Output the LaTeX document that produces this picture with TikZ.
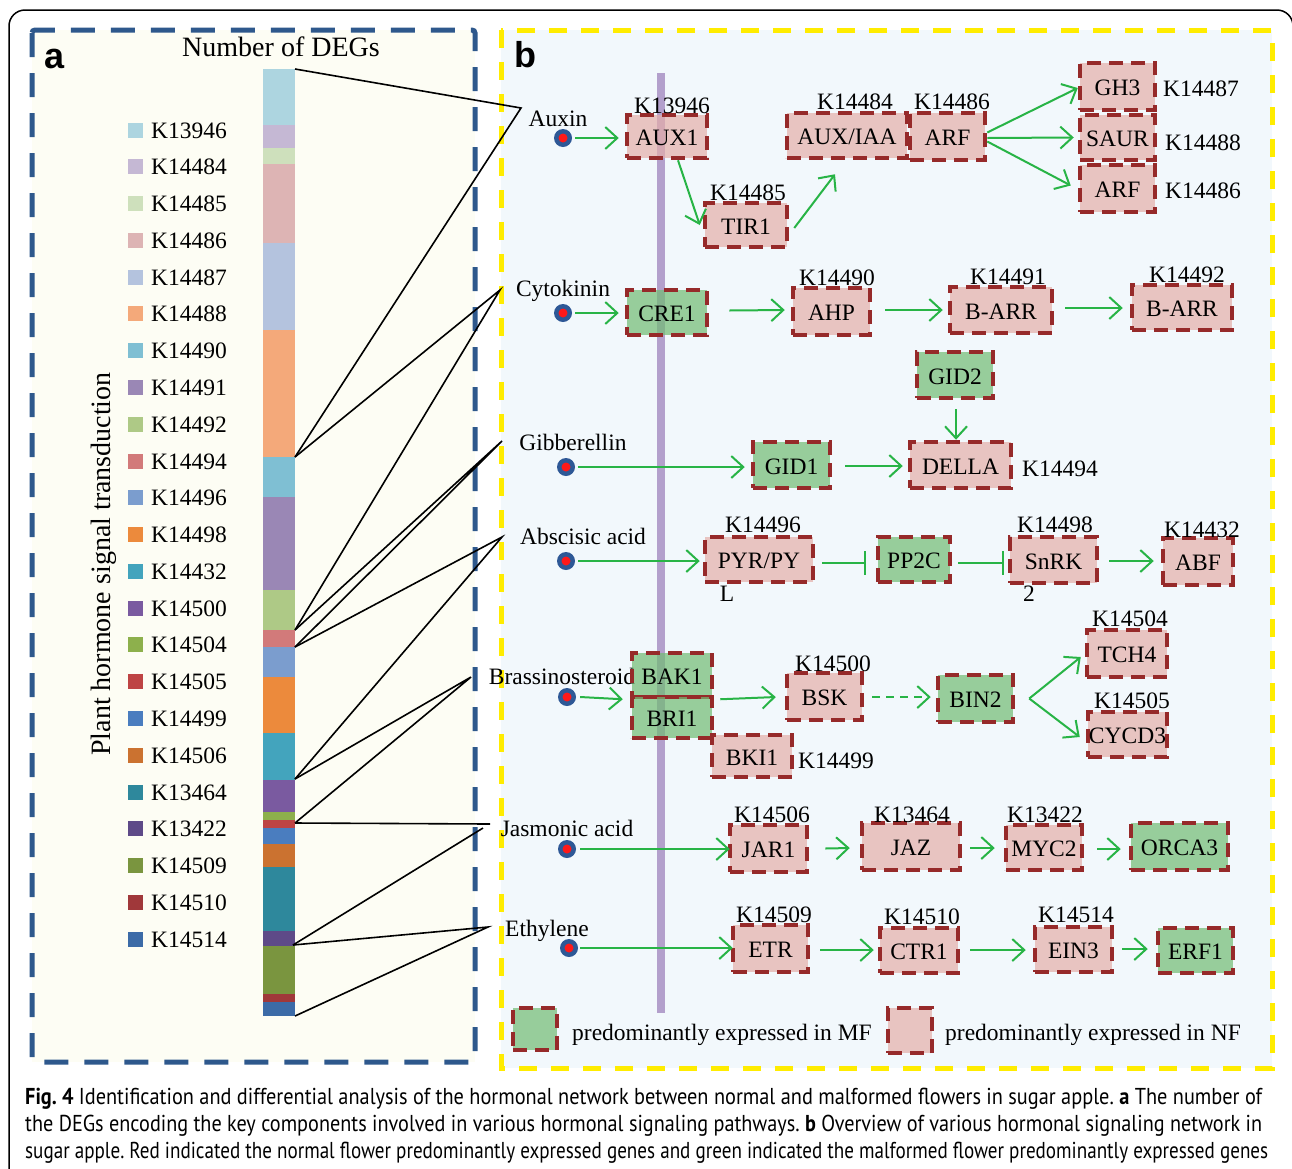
\documentclass[tikz,border=0pt]{standalone}
\usepackage{fontspec}
\usepackage{graphicx}
\setmainfont{Liberation Serif}
\newfontfamily\capfont{PT Sans}
\newfontfamily\labfont{Liberation Sans}
\usetikzlibrary{arrows.meta,calc}
\newlength\mycaplen
\newcommand\mycapline[2]{\settowidth\mycaplen{#2}\pgfmathsetmacro\mycapsc{#1/\mycaplen}\hbox{\scalebox{\mycapsc}[1]{#2}}}
\definecolor{boxred}{RGB}{150,42,42}
\definecolor{pinkfill}{RGB}{228,174,169}
\definecolor{greenfill}{RGB}{113,188,115}
\definecolor{arrgreen}{RGB}{40,180,70}
\definecolor{dotblue}{RGB}{46,88,150}
\definecolor{dotred}{RGB}{255,25,25}
\definecolor{barpurple}{RGB}{179,160,204}
\definecolor{panelA}{RGB}{253,253,244}
\definecolor{panelB}{RGB}{242,248,252}
\definecolor{blueborder}{RGB}{46,88,140}
\definecolor{yellowborder}{RGB}{255,236,0}
\definecolor{cA}{RGB}{173,213,224}
\definecolor{cB}{RGB}{197,184,212}
\definecolor{cC}{RGB}{206,224,188}
\definecolor{cD}{RGB}{221,180,180}
\definecolor{cE}{RGB}{180,195,222}
\definecolor{cF}{RGB}{244,169,122}
\definecolor{cG}{RGB}{127,191,211}
\definecolor{cH}{RGB}{154,135,181}
\definecolor{cI}{RGB}{174,201,134}
\definecolor{cJ}{RGB}{210,122,122}
\definecolor{cK}{RGB}{123,157,206}
\definecolor{cL}{RGB}{236,138,60}
\definecolor{cM}{RGB}{67,164,189}
\definecolor{cN}{RGB}{122,90,160}
\definecolor{cO}{RGB}{141,176,76}
\definecolor{cP}{RGB}{190,68,68}
\definecolor{cQ}{RGB}{74,125,191}
\definecolor{cR}{RGB}{203,114,48}
\definecolor{cS}{RGB}{46,136,156}
\definecolor{cT}{RGB}{94,74,136}
\definecolor{cU}{RGB}{122,149,63}
\definecolor{cV}{RGB}{160,56,58}
\definecolor{cW}{RGB}{60,107,167}
\tikzset{
  gene/.style={rectangle, draw=boxred, line width=4.5pt, dash pattern=on 14pt off 8pt,
    inner sep=0pt, text height=18pt, text depth=0pt, font=\fontsize{23.5}{26}\selectfont},
  nf/.style={gene, preaction={fill=pinkfill, fill opacity=0.7}},
  mf/.style={gene, preaction={fill=greenfill, fill opacity=0.7}},
  lbl/.style={inner sep=0pt, text height=16pt, text depth=0pt, font=\fontsize{23.5}{26}\selectfont},
  arr/.style={draw=arrgreen, line width=2pt, -{Straight Barb[length=12pt,width=22pt]}},
  inh/.style={draw=arrgreen, line width=2pt, -{Bar[width=24pt]}},
  link/.style={black, line width=1.6pt},
  hdot/.style={circle, fill=dotblue, minimum size=18pt, inner sep=0pt,
    path picture={\fill[dotred] (path picture bounding box.center) circle (4.5pt);}},
}
\begin{document}
\begin{tikzpicture}[x=1pt,y=-1pt]
\useasboundingbox (0,0) rectangle (1292,1168);
\clip (0,0) rectangle (1292,1168);
\fill[white] (0,0) rectangle (1292,1168);
% outer frame
\draw[line width=1.5pt, rounded corners=16pt] (9,1250) -- (9,10) -- (1293,10) -- (1293,1250);
% panel backgrounds and borders
\fill[panelA] (32,30) rectangle (475,1062);
\fill[panelB] (501,30) rectangle (1272,1068);
\draw[blueborder, line width=5pt, dash pattern=on 24pt off 16pt, rounded corners=3pt] (32,30) rectangle (475,1062);
\draw[yellowborder, line width=5pt, dash pattern=on 18pt off 14pt] (501,30) rectangle (1272,1068);
% ---------- panel a ----------
\foreach \ya/\yb/\col in {69/125/cA,125/148/cB,148/164/cC,164/243/cD,243/330/cE,330/457/cF,
  457/497/cG,497/590/cH,590/630/cI,630/647/cJ,647/677/cK,677/733/cL,733/780/cM,780/812/cN,
  812/820/cO,820/828/cP,828/844/cQ,844/867/cR,867/931/cS,931/946/cT,946/994/cU,994/1002/cV,1002/1016/cW}
  \fill[\col] (263,\ya) rectangle (295,\yb);
\foreach \i/\lab/\col in {0/K13946/cA,1/K14484/cB,2/K14485/cC,3/K14486/cD,4/K14487/cE,5/K14488/cF,
  6/K14490/cG,7/K14491/cH,8/K14492/cI,9/K14494/cJ,10/K14496/cK,11/K14498/cL,12/K14432/cM,
  13/K14500/cN,14/K14504/cO,15/K14505/cP,16/K14499/cQ,17/K14506/cR,18/K13464/cS,19/K13422/cT,
  20/K14509/cU,21/K14510/cV,22/K14514/cW}{
  \fill[\col] (128,{130+36.78*\i-7.5}) rectangle +(15,15);
  \node[lbl, anchor=west] (leg\i) at (151,{130+36.78*\i}) {\lab};
}
\node[inner sep=0pt, text height=19pt, text depth=0pt, font=\fontsize{28}{30}\selectfont] (title) at (281,47) {Number of DEGs};
\node[rotate=90, anchor=base, inner sep=0pt, font=\fontsize{28}{30}\selectfont] (ylab) at (110,564) {Plant hormone signal transduction};
\node[anchor=base west, inner sep=0pt, font=\labfont\bfseries\fontsize{36}{36}\selectfont] (labA) at (44,68) {a};
\node[anchor=base west, inner sep=0pt, font=\labfont\bfseries\fontsize{36}{36}\selectfont] (labB) at (514,67) {b};
% bar boundary points and apexes
\coordinate (b0) at (295,69);
\coordinate (b6) at (295,457);
\coordinate (b9) at (295,630);
\coordinate (b10) at (295,647);
\coordinate (b13) at (295,779);
\coordinate (b16) at (295,823);
\coordinate (b20) at (293,945);
\coordinate (b23) at (295,1016);
\coordinate (apAux) at (521,108);
\coordinate (apCyt) at (500,290);
\coordinate (apGib) at (502,441);
\coordinate (apAba) at (502,537);
\coordinate (apBr) at (471,677);
\coordinate (apJa) at (490,824);
\coordinate (apJb) at (483,828);
\coordinate (apEt) at (488,927);
% ---------- panel b ----------
\fill[barpurple] (657,73) rectangle (665,1013);
% hormone labels and dots
\node[lbl] (tAux) at (558,118) {Auxin};
\node[lbl] (tCyt) at (563,288) {Cytokinin};
\node[lbl] (tGib) at (573,442) {Gibberellin};
\node[lbl] (tAba) at (583,536) {Abscisic acid};
\node[lbl] (tBr) at (562,676) {Brassinosteroid};
\node[lbl] (tJa) at (567,828) {Jasmonic acid};
\node[lbl] (tEt) at (547,928) {Ethylene};
\node[hdot] (dAux) at (563,138) {};
\node[hdot] (dCyt) at (563,313) {};
\node[hdot] (dGib) at (566,467) {};
\node[hdot] (dAba) at (566,561) {};
\node[hdot] (dBr) at (567,697) {};
\node[hdot] (dJa) at (567,849) {};
\node[hdot] (dEt) at (569,948) {};
% gene boxes
\node[nf, minimum width=80pt, minimum height=43pt] (aux1) at (667,136.5) {AUX1};
\node[nf, minimum width=82pt, minimum height=44pt] (tir1) at (746,225) {TIR1};
\node[nf, minimum width=120pt, minimum height=45pt] (auxiaa) at (847,135.5) {AUX/IAA};
\node[nf, minimum width=75pt, minimum height=47pt] (arf) at (947.5,136.5) {ARF};
\node[nf, minimum width=75pt, minimum height=47pt] (gh3) at (1117.5,86.5) {GH3};
\node[nf, minimum width=75pt, minimum height=45pt] (saur) at (1117.5,137.5) {SAUR};
\node[nf, minimum width=75pt, minimum height=47pt] (arfb) at (1117.5,188.5) {ARF};
\node[mf, minimum width=80pt, minimum height=45pt] (cre1) at (667,312.5) {CRE1};
\node[nf, minimum width=77pt, minimum height=47pt] (ahp) at (831.5,311.5) {AHP};
\node[nf, minimum width=102pt, minimum height=46pt] (barr1) at (1001,310) {B-ARR};
\node[nf, minimum width=100pt, minimum height=45pt] (barr2) at (1182,307.5) {B-ARR};
\node[mf, minimum width=76pt, minimum height=46pt] (gid2) at (955,375) {GID2};
\node[mf, minimum width=77pt, minimum height=46pt] (gid1) at (791.5,465) {GID1};
\node[nf, minimum width=101pt, minimum height=46pt] (della) at (960.5,465) {DELLA};
\node[nf, minimum width=108pt, minimum height=45pt] (pyr) at (759,559.5) {PYR/PY};
\node[mf, minimum width=72pt, minimum height=45pt] (pp2c) at (914,559.5) {PP2C};
\node[nf, minimum width=87pt, minimum height=46pt] (snrk) at (1053.5,560) {SnRK};
\node[nf, minimum width=70pt, minimum height=47pt] (abf) at (1198,561.5) {ABF};
\node[mf, minimum width=80pt, minimum height=44pt] (bak1) at (672,675) {BAK1};
\node[mf, minimum width=80pt, minimum height=41pt] (bri1) at (672,717.5) {BRI1};
\node[nf, minimum width=75pt, minimum height=47pt] (bsk) at (824.5,696.5) {BSK};
\node[nf, minimum width=80pt, minimum height=42pt] (bki1) at (752,756) {BKI1};
\node[mf, minimum width=75pt, minimum height=47pt] (bin2) at (975.5,698.5) {BIN2};
\node[nf, minimum width=80pt, minimum height=47pt] (tch4) at (1127,653.5) {TCH4};
\node[nf, minimum width=79pt, minimum height=45pt] (cycd3) at (1127.5,734.5) {CYCD3};
\node[nf, minimum width=77pt, minimum height=47pt] (jar1) at (768.5,848.5) {JAR1};
\node[nf, minimum width=98pt, minimum height=47pt] (jaz) at (911,846.5) {JAZ};
\node[nf, minimum width=76pt, minimum height=45pt] (myc2) at (1044,847.5) {MYC2};
\node[mf, minimum width=97pt, minimum height=47pt] (orca3) at (1179.5,846.5) {ORCA3};
\node[nf, minimum width=75pt, minimum height=47pt] (etr) at (770.5,948.5) {ETR};
\node[nf, minimum width=78pt, minimum height=45pt] (ctr1) at (919,950.5) {CTR1};
\node[nf, minimum width=77pt, minimum height=45pt] (ein3) at (1073.5,949.5) {EIN3};
\node[mf, minimum width=75pt, minimum height=45pt] (erf1) at (1195.5,950.5) {ERF1};
\node[lbl] (pyrL) at (727,593) {L};
\node[lbl] (snrk2) at (1029,593) {2};
% K labels
\node[lbl] (k13946) at (672,105) {K13946};
\node[lbl] (k14485) at (748,192) {K14485};
\node[lbl] (k14484) at (855,101) {K14484};
\node[lbl] (k14486) at (952,101) {K14486};
\node[lbl, anchor=west] (k14487) at (1163,88) {K14487};
\node[lbl, anchor=west] (k14488) at (1165,142) {K14488};
\node[lbl, anchor=west] (k14486b) at (1165,190) {K14486};
\node[lbl] (k14490) at (837,277) {K14490};
\node[lbl] (k14491) at (1008,276) {K14491};
\node[lbl] (k14492) at (1187,274) {K14492};
\node[lbl, anchor=west] (k14494) at (1022,468) {K14494};
\node[lbl] (k14496) at (763,524) {K14496};
\node[lbl] (k14498) at (1055,524) {K14498};
\node[lbl] (k14432) at (1202,529) {K14432};
\node[lbl] (k14504) at (1130,618) {K14504};
\node[lbl] (k14505) at (1132,700) {K14505};
\node[lbl] (k14500) at (833,663) {K14500};
\node[lbl, anchor=west] (k14499) at (798,760) {K14499};
\node[lbl] (k14506) at (772,814) {K14506};
\node[lbl] (k13464) at (912,814) {K13464};
\node[lbl] (k13422) at (1045,814) {K13422};
\node[lbl] (k14509) at (774,914) {K14509};
\node[lbl] (k14510) at (922,916) {K14510};
\node[lbl] (k14514) at (1076,914) {K14514};
% arrows
\draw[arr] ($(dAux.east)+(3,0)$) -- ($(aux1.west |- dAux)+(-6,0)$);
\draw[arr] ($(aux1.south)+(11,0)$) -- ($(tir1.west)+(-3,0)$);
\draw[arr] ($(tir1.east)+(5,3)$) -- ($(auxiaa.south)+(-12,14)$);
\draw[arr] ($(arf.east)+(0,-4)$) -- ($(gh3.west)+(0,1.5)$);
\draw[arr] ($(arf.east)+(0,1.5)$) -- ($(saur.west)+(-4,0)$);
\draw[arr] ($(arf.east)+(0,5)$) -- ($(arfb.west)+(-7,-3)$);
\draw[arr] ($(dCyt.east)+(3,0)$) -- ($(cre1.west |- dCyt)+(-6,0)$);
\draw[arr] ($(cre1.east)+(20,-2)$) -- ($(ahp.west)+(-6,-1.5)$);
\draw[arr] ($(ahp.east)+(13,-1.5)$) -- ($(barr1.west)+(-5,0)$);
\draw[arr] ($(barr1.east)+(11,-2)$) -- ($(barr2.west)+(-7,0.5)$);
\draw[arr] ($(dGib.east)+(3,0)$) -- ($(gid1.west |- dGib)+(-6,0)$);
\draw[arr] ($(gid1.east)+(13,1)$) -- ($(della.west)+(-5,1)$);
\draw[arr] ($(gid2.south)+(1,9)$) -- ($(della.north)+(-4.5,0)$);
\draw[arr] ($(dAba.east)+(3,0)$) -- ($(pyr.west |- dAba)+(-3,0)$);
\draw[inh] ($(pyr.east)+(7,3.5)$) -- ($(pp2c.west)+(-10,3.5)$);
\draw[inh] ($(pp2c.east)+(6,3.5)$) -- ($(snrk.west)+(-4,3)$);
\draw[arr] ($(snrk.east)+(10,1)$) -- ($(abf.west)+(-7,-0.5)$);
\draw[arr] ($(dBr.east)+(4,0)$) -- ($(bak1.south west)+(-7,0)$);
\draw[arr] ($(bak1.south east)+(6,0)$) -- ($(bsk.west)+(-9,0.5)$);
\draw[arr, dash pattern=on 8pt off 6pt] ($(bsk.east)+(8,0.5)$) -- ($(bin2.west)+(-5,-1.5)$);
\draw[arr] ($(bin2.east)+(14,0)$) -- ($(tch4.west)+(-4,3.5)$);
\draw[arr] ($(bin2.east)+(14,0)$) -- ($(cycd3.west)+(-6,2.5)$);
\draw[arr] ($(dJa.east)+(4,0)$) -- ($(jar1.west |- dJa)+(2,0)$);
\draw[arr] ($(jar1.east)+(16,0)$) -- ($(jaz.west)+(-10,1.5)$);
\draw[arr] ($(jaz.east)+(8,1.5)$) -- ($(myc2.west)+(-9,0.5)$);
\draw[arr] ($(myc2.east)+(13,1.5)$) -- ($(orca3.west)+(-8,2.5)$);
\draw[arr] ($(dEt.east)+(2,0)$) -- ($(etr.west |- dEt)+(2,0)$);
\draw[arr] ($(etr.east)+(10,1.5)$) -- ($(ctr1.west)+(-4,-0.5)$);
\draw[arr] ($(ctr1.east)+(10,-0.5)$) -- ($(ein3.west)+(-7,0.5)$);
\draw[arr] ($(ein3.east)+(8,-0.5)$) -- ($(erf1.west)+(-8,-1.5)$);
% legend panel b
\node[mf, minimum width=44pt, minimum height=42pt] (legMF) at (535,1029) {};
\node[lbl, anchor=west] (legMFt) at (572,1032) {predominantly expressed in MF};
\node[nf, minimum width=44pt, minimum height=45pt] (legNF) at (910,1030.5) {};
\node[lbl, anchor=west] (legNFt) at (945,1032) {predominantly expressed in NF};
% connector lines
\draw[link] (b0) -- (apAux) -- (b6);
\draw[link] (b6) -- (apCyt) -- (b9);
\draw[link] (b9) -- (apGib) -- (b10);
\draw[link] (b10) -- (apAba) -- (b13);
\draw[link] (b13) -- (apBr) -- (b16);
\draw[link] (b16) -- (apJa);
\draw[link] (b20) -- (apJb);
\draw[link] (b20) -- (apEt) -- (b23);
% caption
\node[anchor=base west, inner sep=0pt] (caption) at (25,1104) {\capfont\fontsize{23}{27}\selectfont\frenchspacing
\vtop{\baselineskip=27pt\lineskiplimit=-100pt
\mycapline{1237pt}{\textbf{Fig. 4} Identification and differential analysis of the hormonal network between normal and malformed flowers in sugar apple. \textbf{a} The number of}
\mycapline{1237pt}{the DEGs encoding the key components involved in various hormonal signaling pathways. \textbf{b} Overview of various hormonal signaling network in}
\mycapline{1243pt}{sugar apple. Red indicated the normal flower predominantly expressed genes and green indicated the malformed flower predominantly expressed genes}}};
\end{tikzpicture}
\end{document}
